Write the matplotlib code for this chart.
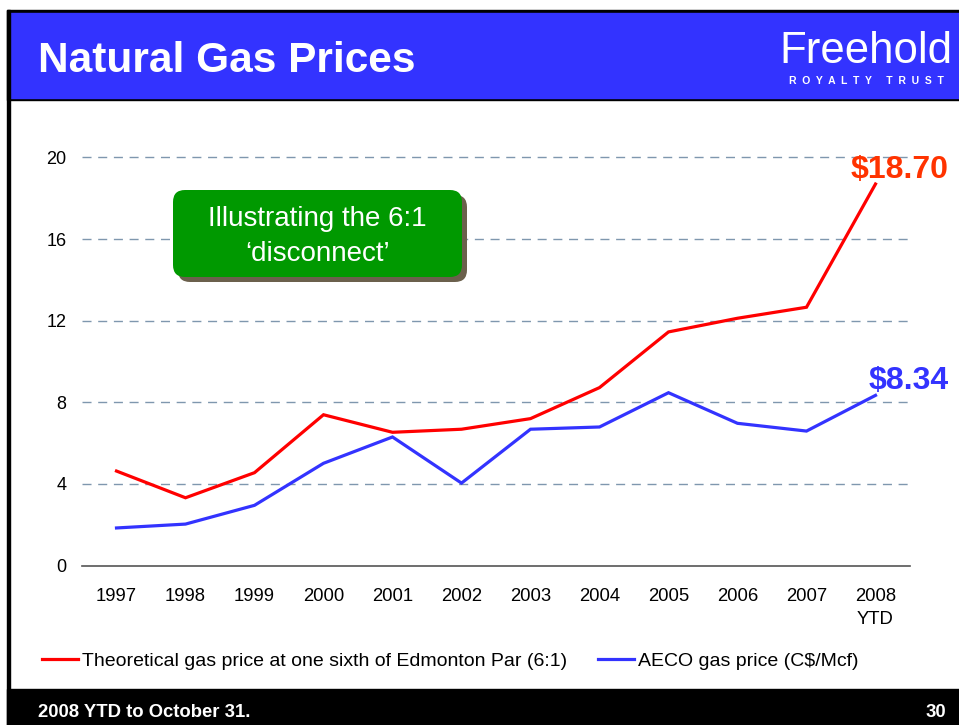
import matplotlib
matplotlib.use('Agg')
import matplotlib.pyplot as plt
from matplotlib.patches import Rectangle, FancyBboxPatch
from matplotlib.lines import Line2D
from matplotlib.transforms import IdentityTransform
from matplotlib import font_manager

# Data
##############################################################################
years = ['1997', '1998', '1999', '2000', '2001', '2002', '2003', '2004',
         '2005', '2006', '2007', '2008\nYTD']
theoretical = [4.63, 3.32, 4.55, 7.39, 6.53, 6.68, 7.20, 8.72, 11.45, 12.12, 12.66, 18.70]
aeco = [1.84, 2.03, 2.95, 5.01, 6.30, 4.04, 6.68, 6.79, 8.47, 6.97, 6.59, 8.34]
yticks = [0, 4, 8, 12, 16, 20]
label_theoretical = 'Theoretical gas price at one sixth of Edmonton Par (6:1)'
label_aeco = 'AECO gas price (C$/Mcf)'

# Styling
##############################################################################
W, H = 959, 725
RED = '#FF0000'
BLUE = '#3333FF'
HEADER_BLUE = '#3333FF'
GREEN = '#009900'
GRID = '#7F97AE'

installed = {f.name for f in font_manager.fontManager.ttflist}
NARROW = 'Liberation Sans Narrow' if 'Liberation Sans Narrow' in installed else 'Liberation Sans'
plt.rcParams['font.family'] = ['Liberation Sans', 'DejaVu Sans']


def fx(x):
    return x / W


def fy(y):
    return 1 - y / H


fig = plt.figure(figsize=(W / 100, H / 100), dpi=100)
fig.patch.set_facecolor('white')

# slide frame: header, footer, borders
fig.patches.append(Rectangle((fx(7), fy(725)), 1 - fx(7), fy(689) - fy(725),
                             transform=fig.transFigure, color='black', zorder=0))
fig.patches.append(Rectangle((fx(7), fy(100)), 1 - fx(7), fy(10) - fy(100),
                             transform=fig.transFigure, color='black', zorder=0))
fig.patches.append(Rectangle((fx(10), fy(98)), 1 - fx(10), fy(12.5) - fy(98),
                             transform=fig.transFigure, color=HEADER_BLUE, zorder=1))
fig.patches.append(Rectangle((fx(7), fy(725)), fx(3), fy(10) - fy(725),
                             transform=fig.transFigure, color='black', zorder=1))

fig.text(fx(38), fy(71.5), 'Natural Gas Prices', color='white', fontsize=30.5,
         fontweight='bold', va='baseline', ha='left')
fig.text(fx(866), fy(63), 'Freehold', color='white', fontsize=31.5, family=NARROW,
         fontstretch='condensed', va='baseline', ha='center')
fig.text(fx(866), fy(83.5), 'R  O  Y  A  L  T  Y     T  R  U  S  T', color='white',
         fontsize=7.5, fontweight='bold', va='baseline', ha='center')
fig.text(fx(38), fy(717), '2008 YTD to October 31.', color='white', fontsize=13.3,
         fontweight='bold', va='baseline', ha='left')
fig.text(fx(946), fy(717), '30', color='white', fontsize=13.3,
         fontweight='bold', va='baseline', ha='right')

# Chart
##############################################################################
ax = fig.add_axes([fx(82), fy(565.5), fx(910 - 82), fy(157.5) - fy(565.5)])
ax.set_facecolor('none')
x = list(range(len(years)))

for t in yticks[1:]:
    ax.axhline(t, color=GRID, linewidth=1, dashes=(6.5, 4.8), zorder=1, clip_on=False)

ax.plot(x, theoretical, color=RED, linewidth=2.3, zorder=3, solid_joinstyle='miter',
        clip_on=False)
ax.plot(x, aeco, color=BLUE, linewidth=2.3, zorder=3, solid_joinstyle='miter',
        clip_on=False)

ax.set_xlim(-0.5, len(years) - 0.5)
ax.set_ylim(0, 20)
ax.set_xticks(x)
ax.set_xticklabels(years, fontsize=13.3, linespacing=1.5)
ax.set_yticks(yticks)
ax.set_yticklabels([str(t) for t in yticks], fontsize=13)
ax.tick_params(axis='both', length=0)
ax.tick_params(axis='x', pad=16)
ax.tick_params(axis='y', pad=11)
for s in ['top', 'right', 'left']:
    ax.spines[s].set_visible(False)
ax.spines['bottom'].set_color('#555555')
ax.spines['bottom'].set_linewidth(1.2)

ax.annotate('$%.2f' % theoretical[-1], xy=(x[-1], theoretical[-1]), xytext=(24, 6),
            textcoords='offset pixels', ha='center', va='baseline', fontsize=23,
            fontweight='bold', color='#FF3300')
ax.annotate('$%.2f' % aeco[-1], xy=(x[-1], aeco[-1]), xytext=(33, 6),
            textcoords='offset pixels', ha='center', va='baseline', fontsize=23,
            fontweight='bold', color=BLUE)

# callout box
ident = IdentityTransform()
bx0, by0, bx1, by1 = 173, 190, 462, 277
fig.patches.append(FancyBboxPatch((bx0 + 5, H - by1 - 5), bx1 - bx0, by1 - by0,
                                  boxstyle='round,pad=0,rounding_size=12',
                                  transform=ident, facecolor='#6B604C', edgecolor='none', zorder=5))
fig.patches.append(FancyBboxPatch((bx0, H - by1), bx1 - bx0, by1 - by0,
                                  boxstyle='round,pad=0,rounding_size=12',
                                  transform=ident, facecolor=GREEN, edgecolor='none', zorder=6))
fig.text(fx((bx0 + bx1) / 2), fy(226), 'Illustrating the 6:1', color='white',
         fontsize=20, family=NARROW, fontstretch='condensed', ha='center', va='baseline', zorder=7)
fig.text(fx((bx0 + bx1) / 2), fy(261), '\u2018disconnect\u2019', color='white',
         fontsize=20, family=NARROW, fontstretch='condensed', ha='center', va='baseline', zorder=7)

# legend
handles = [Line2D([], [], color=RED, linewidth=2.3),
           Line2D([], [], color=BLUE, linewidth=2.3)]
fig.legend(handles, [label_theoretical, label_aeco], loc='center left',
           bbox_to_anchor=(fx(42), fy(661)), ncol=2, frameon=False, fontsize=14,
           borderpad=0, borderaxespad=0, handlelength=1.85, handletextpad=0.2,
           columnspacing=1.6)

fig.savefig('out.png', dpi=100, facecolor='white')
